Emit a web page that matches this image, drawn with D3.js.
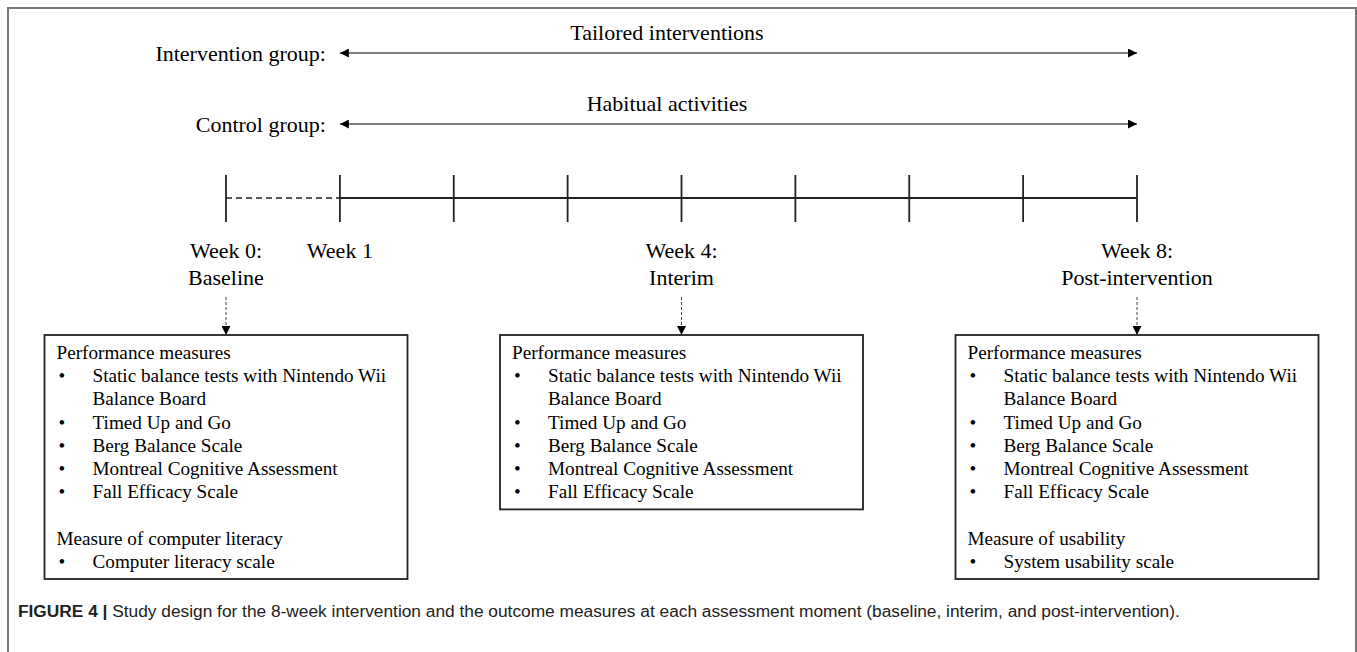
<!DOCTYPE html>
<meta charset="utf-8">
<style>
body { margin: 0; background: #fff; }
.serif { font-family: "Liberation Serif", "Times New Roman", serif; fill: #000; }
.caption { font-family: "Liberation Sans", Arial, sans-serif; font-size: 16px; fill: #222; }
</style>
<svg width="1357" height="652"></svg>
<script src="https://d3js.org/d3.v7.min.js"></script>
<script>

// timeline weeks (tick marks)
var weeks = [0, 1, 2, 3, 4, 5, 6, 7, 8];
// first segment is the baseline period (dashed)
var dashedUntil = 1;

// week labels under the timeline
var weekLabels = [
  {week: 0, lines: ["Week 0:", "Baseline"]},
  {week: 1, lines: ["Week 1"]},
  {week: 4, lines: ["Week 4:", "Interim"]},
  {week: 8, lines: ["Week 8:", "Post-intervention"]}
];

// the two groups and what they do from week 1 to week 8
var groupNames = ["Intervention group:", "Control group:"];
var groupActivities = ["Tailored interventions", "Habitual activities"];
var groupSpan = [1, 8];

// outcome boxes at each assessment moment
var assessWeeks = [0, 4, 8];
var performanceItems = [
  ["Static balance tests with Nintendo Wii", "Balance Board"],
  ["Timed Up and Go"],
  ["Berg Balance Scale"],
  ["Montreal Cognitive Assessment"],
  ["Fall Efficacy Scale"]
];
var extraTitles = ["Measure of computer literacy", null, "Measure of usability"];
var extraItems = [["Computer literacy scale"], null, ["System usability scale"]];

var captionBold = "FIGURE 4 |";
var captionText = " Study design for the 8-week intervention and the outcome measures at each assessment moment (baseline, interim, and post-intervention).";

var svg = d3.select("svg");

var x = d3.scaleLinear().domain([0, 8]).range([226, 1137]);

// outer frame (open at the bottom)
svg.append("path")
    .attr("d", "M8,652 V8 H1356 V652")
    .attr("fill", "none")
    .attr("stroke", "#777")
    .attr("stroke-width", 2);

var defs = svg.append("defs");
defs.append("marker")
    .attr("id", "head")
    .attr("viewBox", "0 0 10 10")
    .attr("refX", 10).attr("refY", 5)
    .attr("markerWidth", 9).attr("markerHeight", 9)
    .attr("markerUnits", "userSpaceOnUse")
    .attr("orient", "auto-start-reverse")
  .append("path")
    .attr("d", "M0,0 L10,5 L0,10 Z")
    .attr("fill", "#000");

defs.append("marker")
    .attr("id", "small")
    .attr("viewBox", "0 0 10 10")
    .attr("refX", 10).attr("refY", 5)
    .attr("markerWidth", 9).attr("markerHeight", 9)
    .attr("markerUnits", "userSpaceOnUse")
    .attr("orient", "auto")
  .append("path")
    .attr("d", "M0,0 L10,5 L0,10 Z")
    .attr("fill", "#000");

// group rows
var groupY = d3.scalePoint().domain(groupNames).range([53, 124]);

var rows = svg.append("g").selectAll("g")
    .data(groupNames)
    .enter().append("g");

rows.append("line")
    .attr("x1", x(groupSpan[0]))
    .attr("x2", x(groupSpan[1]))
    .attr("y1", function(d) { return groupY(d); })
    .attr("y2", function(d) { return groupY(d); })
    .attr("stroke", "#555")
    .attr("stroke-width", 1.4)
    .attr("marker-start", "url(#head)")
    .attr("marker-end", "url(#head)");

rows.append("text")
    .attr("class", "serif")
    .attr("x", x(groupSpan[0]) - 14)
    .attr("y", function(d) { return groupY(d) + 8; })
    .attr("text-anchor", "end")
    .style("font-size", "22px")
    .text(function(d) { return d; });

rows.append("text")
    .attr("class", "serif")
    .attr("x", 667)
    .attr("y", function(d) { return groupY(d) - 13; })
    .attr("text-anchor", "middle")
    .style("font-size", "22px")
    .text(function(d, i) { return groupActivities[i]; });

// timeline
var tl = svg.append("g");
var lineY = 198;

tl.append("line")
    .attr("x1", x(0)).attr("x2", x(dashedUntil))
    .attr("y1", lineY).attr("y2", lineY)
    .attr("stroke", "#222").attr("stroke-width", 1.5)
    .attr("stroke-dasharray", "6,4");

tl.append("line")
    .attr("x1", x(dashedUntil)).attr("x2", x(8))
    .attr("y1", lineY).attr("y2", lineY)
    .attr("stroke", "#222").attr("stroke-width", 1.8);

tl.selectAll(".tick")
    .data(weeks)
    .enter().append("line")
    .attr("class", "tick")
    .attr("x1", function(d) { return x(d); })
    .attr("x2", function(d) { return x(d); })
    .attr("y1", 175).attr("y2", 222)
    .attr("stroke", "#222").attr("stroke-width", 1.8);

var wl = svg.append("g").selectAll("text")
    .data(weekLabels)
    .enter().append("text")
    .attr("class", "serif")
    .attr("text-anchor", "middle")
    .style("font-size", "22px");

wl.selectAll("tspan")
    .data(function(d) { return d.lines.map(function(l) { return {week: d.week, text: l}; }); })
    .enter().append("tspan")
    .attr("x", function(d) { return x(d.week); })
    .attr("y", function(d, i) { return 258 + i * 27; })
    .text(function(d) { return d.text; });

// boxes
var boxW = 363, boxTop = 335, lineH = 23.2, fs = 19.2;

var boxes = svg.append("g").selectAll("g")
    .data(assessWeeks)
    .enter().append("g")
    .attr("transform", function(d) { return "translate(" + (x(d) - boxW / 2) + "," + boxTop + ")"; });

// dotted connector arrows
svg.append("g").selectAll("line")
    .data(assessWeeks)
    .enter().append("line")
    .attr("x1", function(d) { return x(d); })
    .attr("x2", function(d) { return x(d); })
    .attr("y1", 297).attr("y2", boxTop)
    .attr("stroke", "#444").attr("stroke-width", 1)
    .attr("stroke-dasharray", "3,2")
    .attr("marker-end", "url(#small)");

boxes.each(function(w, bi) {
  var g = d3.select(this);
  var lines = [{kind: "head", text: "Performance measures"}];
  performanceItems.forEach(function(item) {
    item.forEach(function(t, j) { lines.push({kind: j === 0 ? "bullet" : "cont", text: t}); });
  });
  if (extraTitles[bi]) {
    lines.push({kind: "blank", text: ""});
    lines.push({kind: "head", text: extraTitles[bi]});
    extraItems[bi].forEach(function(t) { lines.push({kind: "bullet", text: t}); });
  }
  var h = lines.length * lineH + 12;

  g.append("rect")
      .attr("x", 0).attr("y", 0)
      .attr("width", boxW).attr("height", h)
      .attr("fill", "none")
      .attr("stroke", "#222")
      .attr("stroke-width", 1.8);

  lines.forEach(function(l, i) {
    var y = 24 + i * lineH;
    if (l.kind === "bullet") {
      g.append("text").attr("class", "serif")
          .attr("x", 14).attr("y", y)
          .style("font-size", fs + "px")
          .text("\u2022");
    }
    if (l.kind !== "blank") {
      g.append("text").attr("class", "serif")
          .attr("x", l.kind === "head" ? 12 : 48).attr("y", y)
          .style("font-size", fs + "px")
          .text(l.text);
    }
  });
});

// caption
var cap = svg.append("text")
    .attr("class", "caption")
    .attr("x", 18).attr("y", 617);
cap.append("tspan").style("font-weight", "bold").text(captionBold);
cap.append("tspan").text(captionText);

var capW = cap.node().getComputedTextLength();
cap.attr("transform", "translate(18,0) scale(" + (1163 / capW) + ",1) translate(-18,0)");

</script>
